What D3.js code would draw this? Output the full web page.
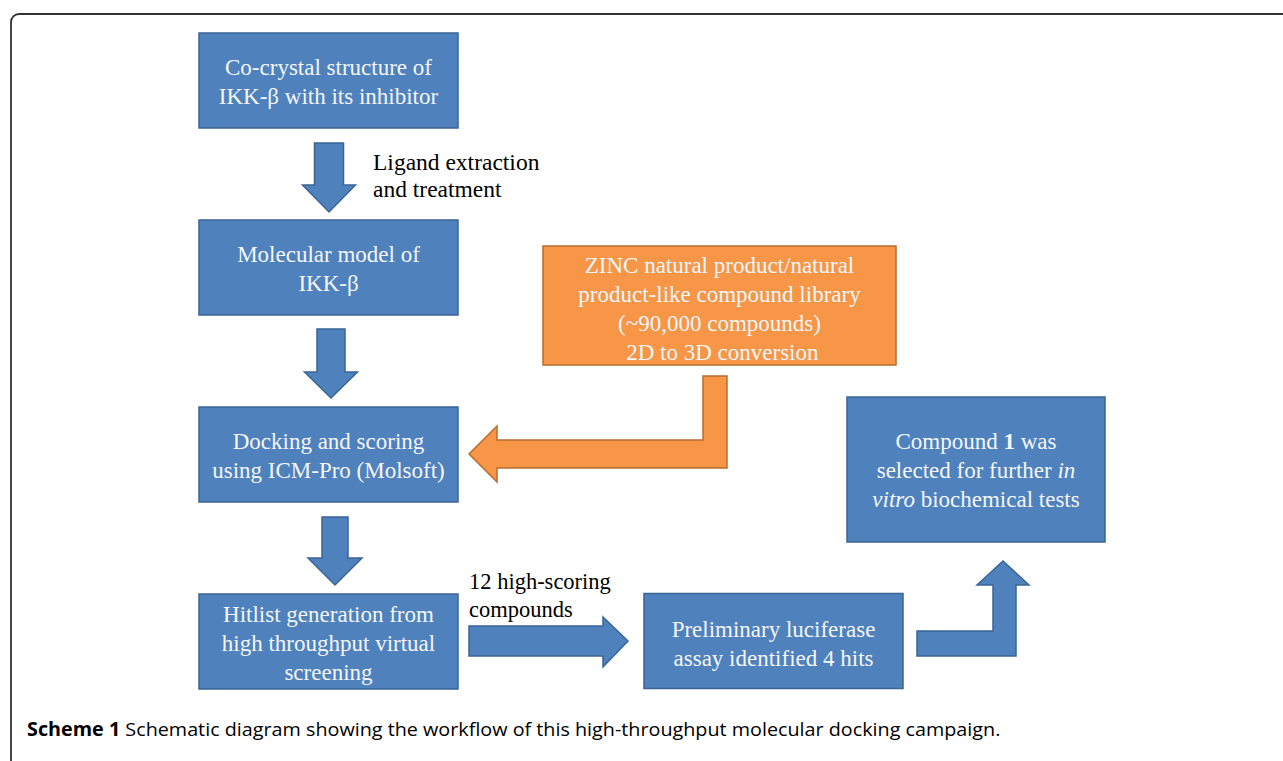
<!DOCTYPE html>
<html>
<head>
<meta charset="utf-8">
<script src="https://cdn.jsdelivr.net/npm/d3@7"></script>
<style>
  body { margin: 0; background: #fff; }
  svg { display: block; }
</style>
</head>
<body>
<div class="draw"></div>
<script>
// node texts, one array per column/row of the flow
var leftColumn = [
  ['Co-crystal structure of', 'IKK-\u03b2 with its inhibitor'],
  ['Molecular model of', 'IKK-\u03b2'],
  ['Docking and scoring', 'using ICM-Pro (Molsoft)'],
  ['Hitlist generation from', 'high throughput virtual', 'screening']
];
var libraryBox = ['ZINC natural product/natural', 'product-like compound library', '(~90,000 compounds)', ' 2D to 3D conversion'];
var assayBox = ['Preliminary luciferase', 'assay identified 4 hits'];
// segments: [text, bold, italic]
var resultBox = [
  [['Compound ', 0, 0], ['1', 1, 0], [' was', 0, 0]],
  [['selected for further ', 0, 0], ['in', 0, 1]],
  [['vitro', 0, 1], [' biochemical tests', 0, 0]]
];
var arrowLabels = [
  ['Ligand extraction', 'and treatment'],
  ['12 high-scoring', 'compounds']
];
var captionBold = 'Scheme 1';
var captionText = ' Schematic diagram showing the workflow of this high-throughput molecular docking campaign.';

var W = 1283, H = 761;
var blue = '#4f81bd', blueEdge = '#3a6595';
var orange = '#f79646', orangeEdge = '#b86d30';
var serif = '"Liberation Serif", "Times New Roman", serif';

// row scale for the left column, column centres
var row = d3.scaleLinear().domain([0, 3]).range([80.5, 641.5]);
var col = { left: 328.5, lib: 719.5, assay: 773.5, result: 976 };
var boxW = 259, boxH = 95, lineH = 29;

var svg = d3.select('.draw').append('svg')
  .attr('width', W).attr('height', H)
  .attr('viewBox', [0, 0, W, H].join(' '));

// outer frame
svg.append('rect')
  .attr('x', 11).attr('y', 14).attr('width', 1320).attr('height', 820)
  .attr('rx', 8)
  .attr('fill', 'none').attr('stroke', '#333').attr('stroke-width', 1.8);

function box(cx, cy, w, h, fill, edge) {
  svg.append('rect')
    .attr('x', cx - w / 2).attr('y', cy - h / 2)
    .attr('width', w).attr('height', h)
    .attr('fill', fill).attr('stroke', edge).attr('stroke-width', 1.5);
}

function lines(cx, cy, rows, opts) {
  var t = svg.append('text')
    .attr('text-anchor', 'middle')
    .attr('font-family', serif)
    .attr('font-size', opts.size || 23)
    .attr('fill', opts.fill || '#f4f6fa');
  var top = cy - (rows.length - 1) * lineH / 2;
  rows.forEach(function(r, i) {
    var segs = typeof r === 'string' ? [[r, 0, 0]] : r;
    var ts = t.append('tspan')
      .attr('x', cx)
      .attr('y', top + i * lineH)
      .attr('dy', '0.33em');
    segs.forEach(function(s) {
      ts.append('tspan')
        .attr('font-weight', s[1] ? 'bold' : null)
        .attr('font-style', s[2] ? 'italic' : null)
        .style('white-space', 'pre')
        .text(s[0]);
    });
  });
}

function downArrow(cx, y0, y1, shaftW, headW, headL) {
  var p = [
    [cx - shaftW / 2, y0], [cx + shaftW / 2, y0], [cx + shaftW / 2, y1 - headL],
    [cx + headW / 2, y1 - headL], [cx, y1], [cx - headW / 2, y1 - headL],
    [cx - shaftW / 2, y1 - headL]
  ];
  svg.append('path')
    .attr('d', d3.line()(p) + 'Z')
    .attr('fill', blue).attr('stroke', blueEdge).attr('stroke-width', 1.5);
}

// left column boxes and arrows between them
leftColumn.forEach(function(d, i) {
  box(col.left, row(i), boxW, boxH, blue, blueEdge);
  lines(col.left, row(i) + 1.5, d, {});
});
downArrow(329, 143, 212, 29, 53, 27);
downArrow(331, 329, 398, 28, 53, 26);
downArrow(335, 517, 585, 26, 54, 27);

// library box (orange) and bent arrow into docking
box(col.lib, 305.5, 353, 119, orange, orangeEdge);
lines(col.lib, 309, libraryBox, {});
var bent = [[727, 376], [727, 468], [497, 468], [497, 482], [469, 454], [497, 426], [497, 440], [703, 440], [703, 376]];
svg.append('path')
  .attr('d', d3.line()(bent) + 'Z')
  .attr('fill', orange).attr('stroke', orangeEdge).attr('stroke-width', 1.5);

// hits -> assay
var right = [[469, 626], [603, 626], [603, 617], [628, 641], [603, 667], [603, 656], [469, 656]];
svg.append('path')
  .attr('d', d3.line()(right) + 'Z')
  .attr('fill', blue).attr('stroke', blueEdge).attr('stroke-width', 1.5);

box(col.assay, 641, 259, 95, blue, blueEdge);
lines(col.assay, 644, assayBox, {});

// assay -> result (bent up)
var up = [[917, 631], [993, 631], [993, 585], [977, 585], [1003, 561], [1029, 585], [1016, 585], [1016, 656], [917, 656]];
svg.append('path')
  .attr('d', d3.line()(up) + 'Z')
  .attr('fill', blue).attr('stroke', blueEdge).attr('stroke-width', 1.5);

box(col.result, 469.5, 258, 145, blue, blueEdge);
lines(col.result, 470, resultBox, {});

// black arrow labels
[[373, 162, 23.5], [469, 582, 22.5]].forEach(function(p, i) {
  var t = svg.append('text')
    .attr('font-family', serif)
    .attr('font-size', p[2])
    .attr('fill', '#000');
  arrowLabels[i].forEach(function(s, j) {
    t.append('tspan').attr('x', p[0]).attr('y', p[1] + j * 27.5).attr('dy', '0.33em').text(s);
  });
});

// caption, narrowed to the width of the original condensed face
var cap = svg.append('text')
  .attr('x', 0).attr('y', 0)
  .attr('font-family', '"Open Sans", "Noto Sans", sans-serif')
  .attr('font-size', 19)
  .attr('fill', '#000');
cap.append('tspan').attr('font-weight', 'bold').text(captionBold);
cap.append('tspan').style('white-space', 'pre').text(captionText);
var len = cap.node().getComputedTextLength();
cap.attr('transform', 'translate(27,736) scale(' + (974 / len) + ',1)');
</script>
</body>
</html>
